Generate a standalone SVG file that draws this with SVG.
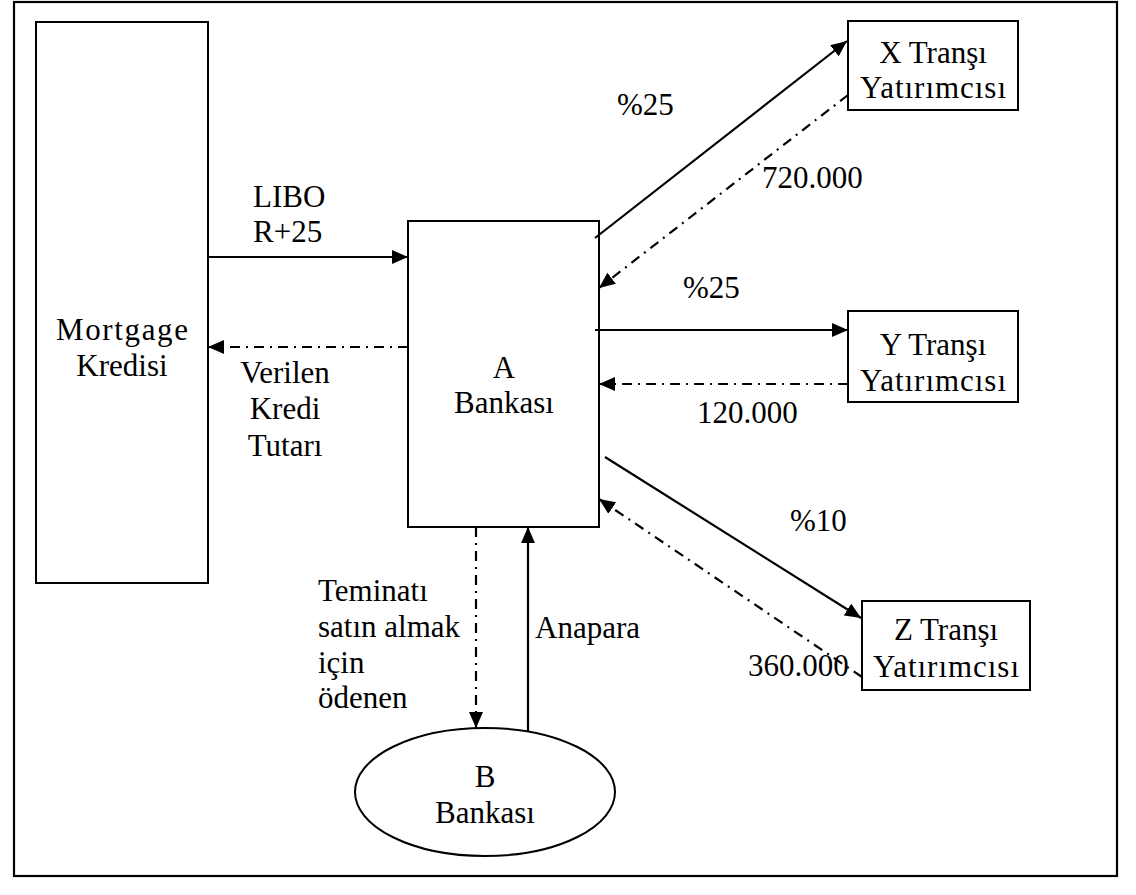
<svg xmlns="http://www.w3.org/2000/svg" width="1136" height="895" viewBox="0 0 1136 895">
<style>
  .box { fill: #fff; stroke: #000; stroke-width: 2; }
  .t { font-family: "Liberation Serif", "Times New Roman", serif; font-size: 31px; fill: #000; }
  .c { text-anchor: middle; }
  .solid { stroke: #000; stroke-width: 2.2; fill: none; marker-end: url(#ah); }
  .dd { stroke: #000; stroke-width: 2.2; fill: none; stroke-dasharray: 10 6 2 6; marker-end: url(#ah); }
</style>
<defs>
  <marker id="ah" markerUnits="userSpaceOnUse" markerWidth="17" markerHeight="15" refX="16" refY="7" orient="auto">
    <path d="M0,0 L16,7 L0,14 z" fill="#000"/>
  </marker>
</defs>
<rect x="0" y="0" width="1136" height="895" fill="#fff"/>
<rect id="frame" x="14" y="2" width="1103" height="874" fill="none" stroke="#000" stroke-width="2.2"/>

<g id="mortgage">
  <rect class="box" x="36" y="22" width="172" height="561"/>
  <text class="t c" x="122" y="340" textLength="132" lengthAdjust="spacing">Mortgage</text>
  <text class="t c" x="122" y="376">Kredisi</text>
</g>
<g id="abank">
  <rect class="box" x="408" y="221" width="191" height="306"/>
  <text class="t c" x="504" y="378">A</text>
  <text class="t c" x="504" y="413">Bankası</text>
</g>
<g id="xtr">
  <rect class="box" x="848" y="21" width="170" height="89"/>
  <text class="t c" x="933" y="63">X Tranşı</text>
  <text class="t c" x="933" y="98" textLength="146" lengthAdjust="spacing">Yatırımcısı</text>
</g>
<g id="ytr">
  <rect class="box" x="848" y="311" width="170" height="91"/>
  <text class="t c" x="933" y="355">Y Tranşı</text>
  <text class="t c" x="933" y="391" textLength="146" lengthAdjust="spacing">Yatırımcısı</text>
</g>
<g id="ztr">
  <rect class="box" x="862" y="601" width="168" height="89"/>
  <text class="t c" x="946" y="640">Z Tranşı</text>
  <text class="t c" x="946" y="677" textLength="146" lengthAdjust="spacing">Yatırımcısı</text>
</g>
<g id="bbank">
  <ellipse cx="485" cy="792" rx="130" ry="64" fill="#fff" stroke="#000" stroke-width="2"/>
  <text class="t c" x="485" y="787">B</text>
  <text class="t c" x="485" y="823">Bankası</text>
</g>

<g id="connectors">
  <line class="solid" x1="208" y1="257" x2="408" y2="257"/>
  <line class="dd" x1="408" y1="347" x2="208" y2="347"/>
  <line class="solid" x1="595" y1="238" x2="847" y2="41"/>
  <line class="dd" x1="848" y1="95" x2="599" y2="288"/>
  <line class="solid" x1="595" y1="330" x2="848" y2="330"/>
  <line class="dd" x1="848" y1="384" x2="599" y2="384"/>
  <line class="solid" x1="605" y1="457" x2="861" y2="618"/>
  <line class="dd" x1="862" y1="677" x2="599" y2="499"/>
  <line class="dd" x1="476" y1="527" x2="476" y2="728"/>
  <line class="solid" x1="528" y1="731" x2="528" y2="527"/>
</g>

<g id="labels">
  <text class="t" x="253" y="207">LIBO</text>
  <text class="t" x="253" y="242">R+25</text>
  <text class="t c" x="285" y="383">Verilen</text>
  <text class="t c" x="285" y="419">Kredi</text>
  <text class="t c" x="285" y="456">Tutarı</text>
  <text class="t" x="617" y="115">%25</text>
  <text class="t" x="762" y="188">720.000</text>
  <text class="t" x="683" y="298">%25</text>
  <text class="t" x="697" y="423">120.000</text>
  <text class="t" x="790" y="531">%10</text>
  <text class="t" x="748" y="676">360.000</text>
  <text class="t" x="318" y="601">Teminatı</text>
  <text class="t" x="318" y="637">satın almak</text>
  <text class="t" x="318" y="673">için</text>
  <text class="t" x="318" y="708">ödenen</text>
  <text class="t" x="535" y="638">Anapara</text>
</g>
</svg>
